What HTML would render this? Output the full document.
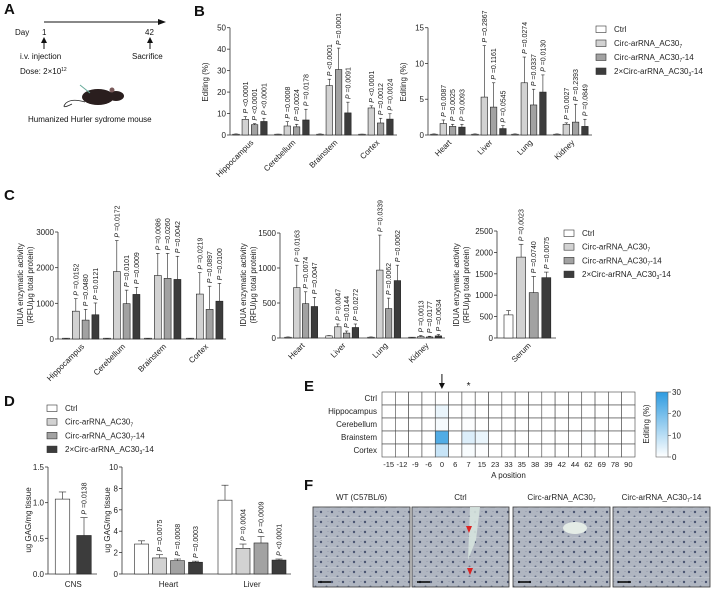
<!DOCTYPE html>
<html><head><meta charset="utf-8"><style>
body{margin:0;background:#fff}
svg{display:block;font-family:"Liberation Sans",Arial,sans-serif}
</style></head><body>
<svg id="fig" width="715" height="590" viewBox="0 0 715 590" xmlns="http://www.w3.org/2000/svg">
<defs>
<pattern id="tissue" width="11" height="10" patternUnits="userSpaceOnUse">
<rect width="11" height="10" fill="#b0b6c1"/>
<circle cx="2" cy="2" r="1.2" fill="#4a5470"/>
<circle cx="7.5" cy="6.5" r="1" fill="#67718a"/>
<circle cx="9" cy="1.5" r="0.5" fill="#8a92a5"/>
<path d="M0 8 L11 7" stroke="#cdd2da" stroke-width="0.5"/>
</pattern>
<linearGradient id="cbar" x1="0" y1="1" x2="0" y2="0">
<stop offset="0" stop-color="#ffffff"/><stop offset="1" stop-color="#2e9be0"/>
</linearGradient>
</defs>
<g font-weight="bold" font-size="15" fill="#111">
<text x="4" y="14">A</text>
<text x="194" y="16">B</text>
<text x="4" y="200">C</text>
<text x="4" y="406">D</text>
<text x="304" y="391">E</text>
<text x="304" y="490">F</text>
</g>
<g font-size="8" fill="#111">
<line x1="44" y1="22" x2="160" y2="22" stroke="#111" stroke-width="1"/>
<polygon points="158,19 166,22 158,25" fill="#111"/>
<text x="15" y="35">Day</text><text x="42" y="35">1</text><text x="145" y="35">42</text>
<line x1="44" y1="40" x2="44" y2="49" stroke="#111"/><polygon points="41,43 44,37 47,43" fill="#111"/>
<line x1="150" y1="40" x2="150" y2="49" stroke="#111"/><polygon points="147,43 150,37 153,43" fill="#111"/>
<text x="20" y="59">i.v. injection</text><text x="132" y="59">Sacrifice</text>
<text x="20" y="74">Dose: 2×10<tspan font-size="5" dy="-3">12</tspan></text>
<g>
<path d="M72 104 Q60 110 66 103 Q72 98 85 102" fill="none" stroke="#222" stroke-width="0.8"/>
<ellipse cx="98" cy="97" rx="16" ry="8" fill="#2a1e1e"/>
<ellipse cx="116" cy="96" rx="8" ry="5" fill="#2a1e1e"/>
<circle cx="112" cy="90" r="2.5" fill="#7a5a5a"/>
<line x1="80" y1="85" x2="90" y2="93" stroke="#6a9" stroke-width="1"/>
</g>
<text x="28" y="122">Humanized Hurler sydrome mouse</text>
</g>
<g id="charts"></g>
<g id="heat"></g>
<g id="histo"></g>
</svg>
<script>
const groupNames = ['Ctrl','Circ-arRNA_AC30','Circ-arRNA_AC30-14','2×Circ-arRNA_AC30-14'];
const barColors = ['#ffffff','#d2d2d2','#a2a2a2','#3c3c3c'];

const bLeftCats = ['Hippocampus','Cerebellum','Brainstem','Cortex'];
const bLeftVals = [[0.3,7.3,4.8,6.3],[0.2,4.2,3.8,7.0],[0.3,23,30.5,10.3],[0.2,12.6,5.6,7.4]];
const bLeftErr = [[0.2,1.3,0.5,1.5],[0.2,2.0,1.2,5.0],[0.2,3.0,10,5.0],[0.2,1.0,2.2,2.5]];
const bLeftP = [['','P <0.0001','P <0.0001','P <0.0001'],['','P =0.0008','P =0.0024','P =0.0178'],['','P <0.0001','P =0.0001','P =0.0091'],['','P <0.0001','P =0.0012','P =0.0024']];
const bLeftTicks = [0,10,20,30,40,50];

const bRightCats = ['Heart','Liver','Lung','Kidney'];
const bRightVals = [[0.1,1.6,1.2,1.1],[0.1,5.3,3.9,0.9],[0.1,7.3,4.2,6.0],[0.1,1.5,1.8,1.2]];
const bRightErr = [[0.05,0.5,0.3,0.4],[0.05,7.2,3.4,0.4],[0.05,3.6,2.2,2.4],[0.05,0.2,2.5,1.0]];
const bRightP = [['','P =0.0087','P =0.0025','P =0.0093'],['','P =0.2867','P =0.1161','P =0.0545'],['','P =0.0274','P =0.0337','P =0.0130'],['','P =0.0027','P =0.2393','P =0.0849']];
const bRightTicks = [0,5,10,15];

const c1Cats = ['Hippocampus','Cerebellum','Brainstem','Cortex'];
const c1Vals = [[10,780,530,680],[10,1890,990,1250],[10,1780,1700,1670],[10,1260,830,1060]];
const c1Err = [[5,350,300,330],[5,870,380,200],[5,620,700,650],[5,600,650,500]];
const c1P = [['','P =0.0152','P =0.0480','P =0.0121'],['','P =0.0172','P =0.0101','P =0.0009'],['','P =0.0086','P =0.0260','P =0.0042'],['','P =0.0219','P =0.0897','P =0.0100']];
const c1Ticks = [0,1000,2000,3000];

const c2Cats = ['Heart','Liver','Lung','Kidney'];
const c2Vals = [[10,720,490,450],[30,160,70,150],[10,970,420,820],[5,20,15,30]];
const c2Err = [[5,320,170,130],[5,40,30,50],[5,500,150,220],[3,15,10,20]];
const c2P = [['','P =0.0163','P =0.0074','P =0.0047'],['','P =0.0047','P =0.0144','P =0.0272'],['','P =0.0339','P =0.0062','P =0.0062'],['','P =0.0013','P =0.0177','P =0.0634']];
const c2Ticks = [0,500,1000,1500];

const c3Cats = ['Serum'];
const c3Vals = [[540,1890,1060,1410]];
const c3Err = [[100,300,380,130]];
const c3P = [['','P =0.0023','P =0.0740','P =0.0075']];
const c3Ticks = [0,500,1000,1500,2000,2500];

const d1Cats = ['CNS'];
const d1Vals = [[1.05,0.54]];
const d1Err = [[0.1,0.25]];
const d1P = [['','P =0.0138']];
const d1Colors = ['#ffffff','#3c3c3c'];
const d1Ticks = [0,0.5,1.0,1.5];
const d1TickLabels = ['0.0','0.5','1.0','1.5'];

const d2Cats = ['Heart','Liver'];
const d2Vals = [[2.8,1.5,1.25,1.1],[6.9,2.4,2.9,1.3]];
const d2Err = [[0.3,0.3,0.15,0.1],[1.4,0.4,0.6,0.1]];
const d2P = [['','P =0.0075','P =0.0008','P =0.0003'],['','P =0.0004','P =0.0009','P <0.0001']];
const d2Ticks = [0,2,4,6,8,10];

const heatRows = ['Ctrl','Hippocampus','Cerebellum','Brainstem','Cortex'];
const heatCols = ['-15','-12','-9','-6','0','6','7','15','23','33','35','38','39','42','44','62','69','78','90'];
const heatVals = [
 [0,0,0,0,0,0,0,0,0,0,0,0,0,0,0,0,0,0,0],
 [0,0,0,0,3,0,0.5,0,0,0,0,0,0,0,0,0,0,0,0],
 [0,0,0,0,1.5,0,0.5,0,0,0,0,0,0,0,0,0,0,0,0],
 [0,0,0,0,25,0,5,3,0,0,0,0,0,0,0,0.5,0,0,0],
 [0,0,0,0,8,0,1,0.5,0,0,0,0,0,0,0,0,0,0,0]];
const cbarTicks = [0,10,20,30];

const histoTitles = ['WT (C57BL/6)','Ctrl','Circ-arRNA_AC30','Circ-arRNA_AC30-14'];

const NS='http://www.w3.org/2000/svg';
const root=document.getElementById('charts');
function mk(tag,attrs,parent){const e=document.createElementNS(NS,tag);for(const k in attrs)e.setAttribute(k,attrs[k]);(parent||root).appendChild(e);return e;}

function panel(name,cfg,cats,vals,errs,pvals,ticks,tickLabels,colors){
  const g=mk('g',{});
  
  
  const Y=v=>cfg.y0-(v-ticks[0])/(ticks[ticks.length-1]-ticks[0])*(cfg.y0-cfg.yTop);
  mk('line',{x1:cfg.ax,y1:cfg.y0,x2:cfg.ax,y2:cfg.yTop,stroke:'#333','stroke-width':0.8},g);
  mk('line',{x1:cfg.ax,y1:cfg.y0,x2:cfg.xEnd,y2:cfg.y0,stroke:'#333','stroke-width':0.8},g);
  ticks.forEach((t,i)=>{
    const y=Y(t);
    const tk=mk('line',{x1:cfg.ax-3,y1:y,x2:cfg.ax,y2:y,stroke:'#333','stroke-width':0.8},g);
    
    
    const tl=mk('text',{x:cfg.ax-4,y:y+3,'text-anchor':'end','font-size':8,fill:'#222'},g);
    tl.textContent=tickLabels?tickLabels[i]:String(t);
    
    
  });
  cats.forEach((c,gi)=>{
    const gx=cfg.firsts[gi];
    vals[gi].forEach((v,bi)=>{
      const x=gx+bi*cfg.pitch;
      const top=Y(v), base=cfg.y0;
      const r=mk('rect',{x:x-cfg.w/2,y:Math.min(top,base-0.8),width:cfg.w,height:Math.max(base-top,0.8),fill:colors[bi],stroke:'#222','stroke-width':0.6},g);
      
      
      const et=Y(v+errs[gi][bi]);
      mk('line',{x1:x,y1:top,x2:x,y2:et,stroke:'#222','stroke-width':0.6},g);
      mk('line',{x1:x-cfg.w/4,y1:et,x2:x+cfg.w/4,y2:et,stroke:'#222','stroke-width':0.6},g);
      const p=pvals[gi][bi];
      if(p){
        const px=x+2.5, py=et-3;
        const t=mk('text',{x:px,y:py,'font-size':7,fill:'#222',transform:`rotate(-90 ${px} ${py})`},g);
        
        
        const it=mk('tspan',{'font-style':'italic'},t); it.textContent='P';
        const rest=mk('tspan',{},t); rest.textContent=p.slice(1);
      }
    });
    const n=vals[gi].length;
    const cx=gx+(n-1)*cfg.pitch/2;
    if(cfg.rot){
      const lx=cx+4, ly=cfg.y0+8;
      const t=mk('text',{x:lx,y:ly,'text-anchor':'end','font-size':8,fill:'#222',transform:`rotate(-45 ${lx} ${ly})`},g);
      t.textContent=c;
      
      
    } else {
      const t=mk('text',{x:cx,y:cfg.y0+13,'text-anchor':'middle','font-size':8,fill:'#222'},g);
      t.textContent=c;
      
      
    }
  });
  cfg.titles.forEach((tt,i)=>{
    const x=cfg.titleX+i*10, y=cfg.titleY;
    const t=mk('text',{x:x,y:y,'text-anchor':'middle','font-size':8,fill:'#222',transform:`rotate(-90 ${x} ${y})`},g);
    t.textContent=tt;
    
    
  });
}
function legend(name,x,y0,dy){
  const g=mk('g',{});
  
  
  groupNames.forEach((n,i)=>{
    const y=y0+i*dy;
    mk('rect',{x:x,y:y-6,width:10,height:6.5,fill:barColors[i],stroke:'#333','stroke-width':0.6},g);
    const t=mk('text',{x:x+18,y:y,'font-size':8,fill:'#222'},g);
    
    
    if(i===0){t.textContent=n;}
    else{
      const a=mk('tspan',{},t);a.textContent=n.replace('-14','');
      const s=mk('tspan',{'font-size':5,dy:2},t);s.textContent=i===3?'3':'7';
      if(n.endsWith('-14')){const b=mk('tspan',{dy:-2},t);b.textContent='-14';}
    }
  });
}

panel('chart-b-cns',{ax:230,y0:135,yTop:27.7,xEnd:397,firsts:[236,278,320,362],pitch:9.3,w:6.5,rot:true,titles:['Editing (%)'],titleX:208,titleY:82},bLeftCats,bLeftVals,bLeftErr,bLeftP,bLeftTicks,null,barColors);
panel('chart-b-organs',{ax:428,y0:135,yTop:27.7,xEnd:592,firsts:[434,475,515,557],pitch:9.3,w:6.5,rot:true,titles:['Editing (%)'],titleX:406,titleY:82},bRightCats,bRightVals,bRightErr,bRightP,bRightTicks,null,barColors);
legend('legend-b',596,32,14);

panel('chart-c-cns',{ax:58,y0:339,yTop:232,xEnd:226,firsts:[66,107,148,190],pitch:9.8,w:7,rot:true,titles:['IDUA enzymatic activity','(RFU/μg total protein)'],titleX:23,titleY:285},c1Cats,c1Vals,c1Err,c1P,c1Ticks,null,barColors);
panel('chart-c-organs',{ax:280,y0:338,yTop:233,xEnd:445,firsts:[288,329,371,412],pitch:8.8,w:6.5,rot:true,titles:['IDUA enzymatic activity','(RFU/μg total protein)'],titleX:246,titleY:285},c2Cats,c2Vals,c2Err,c2P,c2Ticks,null,barColors);
panel('chart-c-serum',{ax:497,y0:338,yTop:231,xEnd:556,firsts:[508.5],pitch:12.6,w:9,rot:true,titles:['IDUA enzymatic activity','(RFU/μg total protein)'],titleX:459,titleY:285},c3Cats,c3Vals,c3Err,c3P,c3Ticks,null,barColors);
legend('legend-c',564,236,13.7);

legend('legend-d',47,411,13.7);
panel('chart-d-cns',{ax:48,y0:574,yTop:467,xEnd:97,firsts:[62.5],pitch:21.5,w:14.5,rot:false,titles:['ug GAG/mg tissue'],titleX:31,titleY:520},d1Cats,d1Vals,d1Err,d1P,d1Ticks,d1TickLabels,d1Colors);
panel('chart-d-organs',{ax:122,y0:574,yTop:467,xEnd:291,firsts:[141.5,225],pitch:18,w:14,rot:false,titles:['ug GAG/mg tissue'],titleX:110,titleY:520},d2Cats,d2Vals,d2Err,d2P,d2Ticks,null,barColors);

(function(){
  const hg=document.getElementById('heat');
  const x0=382,x1=635,y0=392,rh=13;
  const cw=(x1-x0)/heatCols.length;
  const col=v=>{const f=Math.min(v/30,1);const r=Math.round(255-(255-46)*f),g=Math.round(255-(255-155)*f),b=Math.round(255-(255-224)*f);return `rgb(${r},${g},${b})`;};
  heatRows.forEach((rn,ri)=>{
    heatCols.forEach((cn,ci)=>{
      const c=mk('rect',{x:x0+ci*cw,y:y0+ri*rh,width:cw,height:rh,fill:col(heatVals[ri][ci]),stroke:'#444','stroke-width':0.6},hg);
      
      
    });
    const t=mk('text',{x:x0-5,y:y0+ri*rh+9,'text-anchor':'end','font-size':8,fill:'#222'},hg);
    t.textContent=rn;
    
    
  });
  heatCols.forEach((cn,ci)=>{
    const t=mk('text',{x:x0+ci*cw+cw/2,y:y0+5*rh+10,'text-anchor':'middle','font-size':7.5,fill:'#222'},hg);
    t.textContent=cn;
    
    
  });
  const xt=mk('text',{x:(x0+x1)/2,y:y0+5*rh+21,'text-anchor':'middle','font-size':8,fill:'#222'},hg);
  xt.textContent='A position';
  
  
  const ax=x0+4*cw+cw/2;
  mk('line',{x1:ax,y1:374,x2:ax,y2:384,stroke:'#111','stroke-width':1},hg);
  mk('polygon',{points:`${ax-3},383 ${ax},389 ${ax+3},383`,fill:'#111'},hg);
  const st=mk('text',{x:x0+6*cw+cw/2,y:389,'text-anchor':'middle','font-size':10,fill:'#111'},hg);
  st.textContent='*';
  const cb=mk('rect',{x:656,y:392,width:12,height:65,fill:'url(#cbar)',stroke:'#666','stroke-width':0.6},hg);
  
  
  cbarTicks.forEach(t=>{
    const y=457-t/30*65;
    mk('line',{x1:668,y1:y,x2:671,y2:y,stroke:'#444','stroke-width':0.6},hg);
    const l=mk('text',{x:672,y:y+3,'font-size':8,fill:'#222'},hg);l.textContent=String(t);
  });
  const ct=mk('text',{x:649,y:424,'text-anchor':'middle','font-size':8,fill:'#222',transform:'rotate(-90 649 424)'},hg);
  ct.textContent='Editing (%)';
  
  
})();

(function(){
  const hg=document.getElementById('histo');
  const xs=[313,412,513,613], w=97;
  histoTitles.forEach((tt,i)=>{
    const x=xs[i];
    const r=mk('rect',{x:x,y:507,width:w,height:80,fill:'url(#tissue)',stroke:'#333','stroke-width':0.8},hg);
    
    
    if(i===1){mk('path',{d:`M${x+58} 507 L${x+68} 507 L${x+64} 540 L${x+56} 560 Z`,fill:'#d6e3de',opacity:0.9},hg);
      mk('polygon',{points:`${x+54},526 ${x+57},533 ${x+60},526`,fill:'#d22'},hg);
      mk('polygon',{points:`${x+55},568 ${x+58},575 ${x+61},568`,fill:'#d22'},hg);}
    if(i===2){mk('ellipse',{cx:x+62,cy:528,rx:12,ry:6,fill:'#e4ece6'},hg);}
    mk('line',{x1:x+5,y1:582,x2:x+18,y2:582,stroke:'#000','stroke-width':1.5},hg);
    const t=mk('text',{x:x+w/2,y:500,'text-anchor':'middle','font-size':8,fill:'#222'},hg);
    
    
    if(i>=2){const a=mk('tspan',{},t);a.textContent='Circ-arRNA_AC30';const s=mk('tspan',{'font-size':5,dy:2},t);s.textContent='7';if(i===3){const b=mk('tspan',{dy:-2},t);b.textContent='-14';}}
    else t.textContent=tt;
  });
})();
</script>
</body></html>
